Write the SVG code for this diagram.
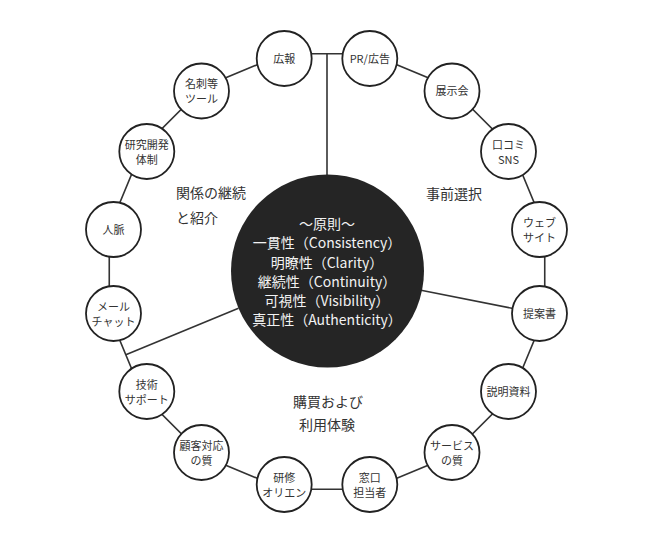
<svg xmlns="http://www.w3.org/2000/svg" width="650" height="542" viewBox="0 0 650 542">
<style>
text{font-family:"Noto Sans CJK JP","Noto Sans",sans-serif;}
.n{fill:#fff;stroke:#222;stroke-width:1.8;}
.l{font-size:11px;fill:#333;text-anchor:middle;}
.c{font-size:14px;fill:#f2f2f2;text-anchor:middle;}
.s{font-size:14px;fill:#333;}
.e{fill:none;stroke:#333;stroke-width:1.6;}
</style>
<rect width="650" height="542" fill="#fff"/>
<g id="connectors">
<polygon class="e" points="370.31,53.76 450.34,86.91 511.59,148.16 544.74,228.19 544.74,314.81 511.59,394.84 450.34,456.09 370.31,489.24 283.69,489.24 203.66,456.09 142.41,394.84 109.26,314.81 109.26,228.19 142.41,148.16 203.66,86.91 283.69,53.76"/>
<line class="e" x1="327" y1="53.76" x2="327" y2="176"/>
<line class="e" x1="421" y1="290.2" x2="544.74" y2="314.81"/>
<line class="e" x1="238.5" y1="308.2" x2="125.84" y2="354.83"/>
</g>
<g id="center">
<circle cx="327.5" cy="271" r="96.5" fill="#252525"/>
<text class="c" x="327" y="229">～原則～</text>
<text class="c" x="327" y="248.3">一貫性（Consistency）</text>
<text class="c" x="327" y="267.7">明瞭性（Clarity）</text>
<text class="c" x="327" y="286.7">継続性（Continuity）</text>
<text class="c" x="327" y="305.7">可視性（Visibility）</text>
<text class="c" x="327" y="325">真正性（Authenticity）</text>
</g>
<g id="section-labels">
<text class="s" x="176" y="198">関係の継続</text>
<text class="s" x="176" y="223">と紹介</text>
<text class="s" x="426" y="199">事前選択</text>
<text class="s" x="328" y="407" text-anchor="middle">購買および</text>
<text class="s" x="327" y="430" text-anchor="middle">利用体験</text>
</g>
<g id="n-pr"><circle class="n" cx="369.8" cy="58.5" r="27.5"/><text class="l" x="369.8" y="62.5">PR/広告</text></g>
<g id="n-tenji"><circle class="n" cx="452" cy="91" r="27.5"/><text class="l" x="452" y="95">展示会</text></g>
<g id="n-kuchikomi"><circle class="n" cx="508.5" cy="151.5" r="27.5"/><text class="l" x="508.5" y="148.5">口コミ</text><text class="l" x="508.5" y="163.5">SNS</text></g>
<g id="n-web"><circle class="n" cx="539.5" cy="229.5" r="27.5"/><text class="l" x="539.5" y="226.5">ウェブ</text><text class="l" x="539.5" y="241.5">サイト</text></g>
<g id="n-teian"><circle class="n" cx="539.5" cy="313.5" r="27.5"/><text class="l" x="539.5" y="317.5">提案書</text></g>
<g id="n-setsumei"><circle class="n" cx="508.5" cy="391.5" r="27.5"/><text class="l" x="508.5" y="395.5">説明資料</text></g>
<g id="n-service"><circle class="n" cx="452" cy="452.5" r="27.5"/><text class="l" x="452" y="449.5">サービス</text><text class="l" x="452" y="464.5">の質</text></g>
<g id="n-madoguchi"><circle class="n" cx="369.8" cy="484.5" r="27.5"/><text class="l" x="369.8" y="481.5">窓口</text><text class="l" x="369.8" y="496.5">担当者</text></g>
<g id="n-kenshu"><circle class="n" cx="284.2" cy="484.5" r="27.5"/><text class="l" x="284.2" y="481.5">研修</text><text class="l" x="284.2" y="496.5">オリエン</text></g>
<g id="n-kokyaku"><circle class="n" cx="201.5" cy="452.5" r="27.5"/><text class="l" x="201.5" y="449.5">顧客対応</text><text class="l" x="201.5" y="464.5">の質</text></g>
<g id="n-gijutsu"><circle class="n" cx="146.8" cy="391.5" r="27.5"/><text class="l" x="146.8" y="388.5">技術</text><text class="l" x="146.8" y="403.5">サポート</text></g>
<g id="n-mail"><circle class="n" cx="113.5" cy="313.5" r="27.5"/><text class="l" x="113.5" y="310.5">メール</text><text class="l" x="113.5" y="325.5">チャット</text></g>
<g id="n-jinmyaku"><circle class="n" cx="113.5" cy="229.5" r="27.5"/><text class="l" x="113.5" y="233.5">人脈</text></g>
<g id="n-kenkyu"><circle class="n" cx="146.8" cy="151.5" r="27.5"/><text class="l" x="146.8" y="148.5">研究開発</text><text class="l" x="146.8" y="163.5">体制</text></g>
<g id="n-meishi"><circle class="n" cx="201.5" cy="91" r="27.5"/><text class="l" x="201.5" y="88">名刺等</text><text class="l" x="201.5" y="103">ツール</text></g>
<g id="n-koho"><circle class="n" cx="284.2" cy="58.5" r="27.5"/><text class="l" x="284.2" y="62.5">広報</text></g>
</svg>
